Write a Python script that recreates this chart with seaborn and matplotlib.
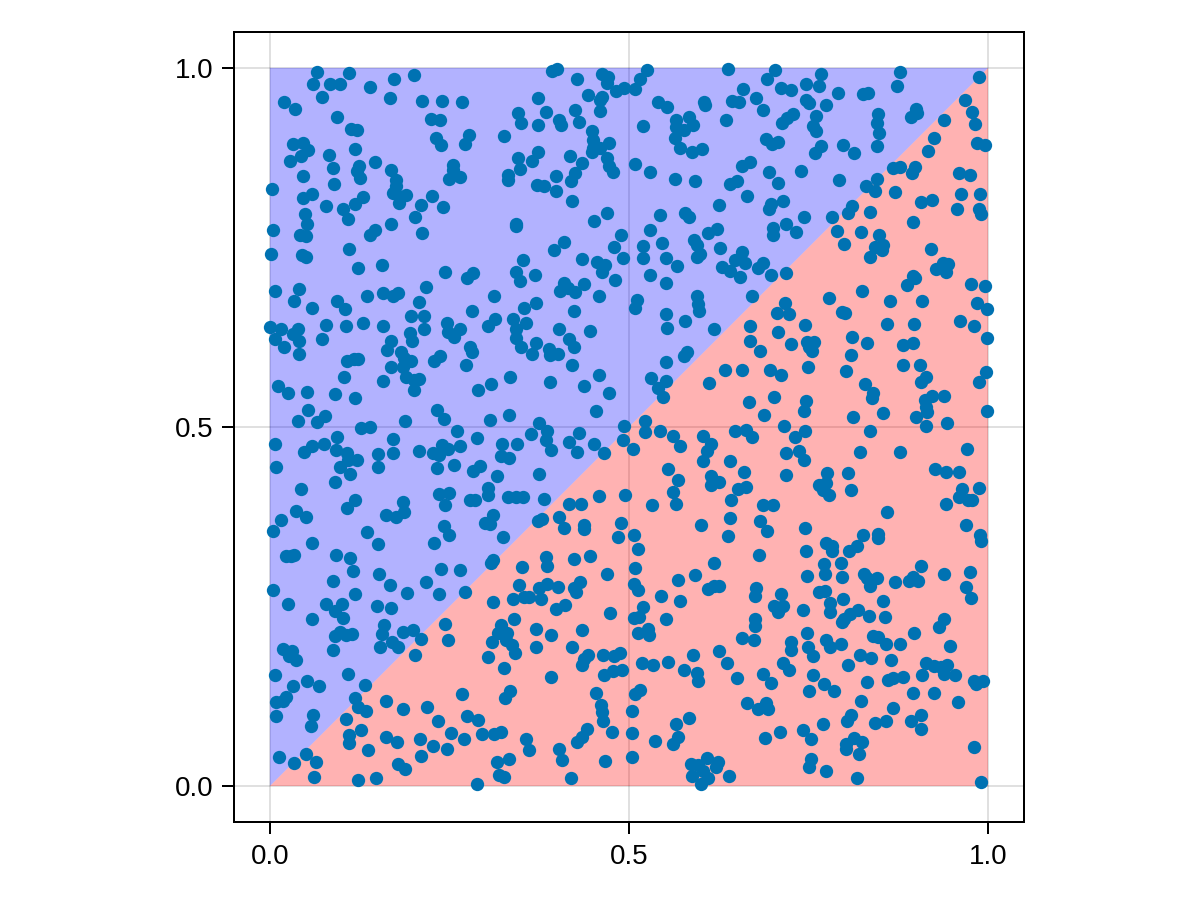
import matplotlib
matplotlib.use("Agg")
import matplotlib.pyplot as plt
import seaborn as sns
import pandas as pd

# Points, in data units, by region of the square
points_upper_left = [
(.065,.995),(.110,.993),(.200,.990),(.173,.984),(.060,.977),(.084,.978),(.097,.978),(.139,.974),(.072,.960),(.167,.958),
(.019,.952),(.035,.943),(.212,.954),(.240,.954),(.267,.953),(.094,.932),(.225,.929),(.237,.927),(.113,.915),(.121,.914),
(.231,.902),(.238,.892),(.277,.906),(.271,.894),(.032,.894),(.046,.895),(.053,.886),(.043,.877),(.028,.871),(.082,.879),
(.118,.887),(.088,.861),(.124,.864),(.121,.857),(.126,.847),(.146,.869),(.046,.850),(.168,.858),(.255,.865),(.255,.858),
(.265,.848),(.250,.845),(.089,.839),(.175,.844),(.175,.835),(.003,.832),(.059,.825),(.046,.819),(.172,.826),(.181,.820),
(.189,.823),(.180,.812),(.130,.820),(.118,.811),(.078,.808),(.102,.803),(.109,.790),(.226,.821),(.211,.809),(.241,.807),
(.049,.796),(.052,.782),(.202,.792),(.005,.775),(.168,.782),(.146,.775),(.139,.768),(.212,.770),(.042,.767),(.050,.766),
(.002,.741),(.044,.740),(.050,.737),(.110,.748),(.123,.722),(.156,.725),(.244,.716),(.275,.708),(.283,.715),(.007,.690),
(.040,.692),(.034,.676),(.058,.666),(.093,.676),(.105,.664),(.135,.682),(.158,.686),(.172,.683),(.178,.687),(.217,.695),
(.208,.674),(.197,.655),(.214,.655),(.106,.641),(.078,.642),(.129,.645),(.157,.641),(.281,.661),(.000,.639),(.016,.636),
(.039,.637),(.032,.630),(.007,.622),(.041,.620),(.072,.623),(.020,.611),(.040,.602),(.214,.636),(.195,.631),(.198,.620),
(.168,.620),(.163,.607),(.183,.604),(.246,.645),(.265,.637),(.248,.632),(.256,.626),(.278,.612),(.281,.604),(.107,.592),
(.117,.595),(.122,.595),(.187,.596),(.196,.592),(.186,.584),(.168,.583),(.237,.599),(.228,.592),(.273,.587),(.103,.570),
(.157,.564),(.189,.569),(.200,.565),(.207,.567),(.201,.551),(.011,.557),(.025,.548),(.052,.549),(.091,.546),(.118,.540),
(.053,.524),(.233,.524),(.242,.511),(.077,.516),(.066,.507),(.039,.508),(.188,.509),(.127,.498),(.139,.500),
(.393,.996),(.400,.998),(.428,.984),(.462,.991),(.471,.987),(.470,.979),(.493,.972),(.482,.968),(.443,.962),(.462,.959),
(.459,.956),(.373,.958),(.460,.940),(.346,.937),(.349,.923),(.384,.939),(.425,.941),(.373,.920),(.403,.927),(.406,.920),
(.431,.925),(.326,.905),(.448,.912),(.450,.899),(.450,.889),(.448,.883),(.459,.889),(.472,.895),(.373,.883),(.346,.875),
(.365,.870),(.348,.859),(.418,.877),(.435,.868),(.470,.874),(.472,.863),(.478,.855),(.398,.849),(.332,.851),(.332,.844),
(.425,.853),(.419,.843),(.372,.837),(.382,.835),(.399,.829),(.421,.814),(.470,.798),(.451,.787),(.342,.782),(.343,.780),
(.489,.768),(.409,.758),(.396,.746),(.479,.751),(.435,.734),(.491,.735),(.455,.730),(.467,.726),(.463,.716),(.352,.732),
(.342,.716),(.369,.711),(.348,.703),(.481,.704),(.409,.701),(.404,.689),(.415,.693),(.425,.688),(.438,.699),(.458,.683),
(.312,.683),(.370,.673),(.354,.666),(.424,.661),(.313,.651),(.303,.641),(.339,.650),(.356,.645),(.343,.637),(.402,.637),
(.446,.633),(.343,.624),(.371,.617),(.416,.622),(.424,.611),(.350,.612),(.365,.601),(.389,.608),(.390,.600),(.401,.602),
(.420,.587),(.458,.573),(.335,.570),(.390,.562),(.438,.557),(.308,.560),(.290,.551),(.472,.547),(.454,.522),(.307,.510),
(.333,.517),(.375,.506),(.493,.502),
]
points_upper_right = [
(.525,.997),(.516,.985),(.508,.970),(.638,.998),(.703,.997),(.692,.984),(.659,.970),(.712,.972),(.726,.969),(.747,.978),
(.764,.975),(.767,.992),(.791,.965),(.826,.963),(.833,.965),(.877,.994),(.873,.975),(.987,.988),(.968,.956),(.540,.952),
(.553,.945),(.605,.952),(.606,.949),(.644,.954),(.653,.953),(.677,.958),(.686,.941),(.746,.956),(.751,.951),(.774,.948),
(.977,.939),(.899,.943),(.901,.937),(.892,.931),(.847,.936),(.845,.923),(.848,.910),(.761,.933),(.728,.936),(.720,.930),
(.713,.923),(.583,.932),(.566,.927),(.589,.921),(.566,.918),(.576,.914),(.519,.919),(.635,.927),(.756,.919),(.761,.912),
(.982,.922),(.938,.927),(.924,.903),(.564,.903),(.691,.901),(.699,.894),(.707,.897),(.571,.888),(.588,.883),(.602,.887),
(.798,.893),(.813,.881),(.845,.891),(.767,.891),(.759,.881),(.917,.885),(.984,.895),(.996,.893),(.509,.866),(.529,.855),
(.564,.846),(.592,.843),(.669,.869),(.658,.864),(.695,.855),(.739,.857),(.708,.840),(.792,.844),(.868,.861),(.878,.862),
(.898,.862),(.894,.854),(.960,.854),(.975,.851),(.846,.845),(.830,.836),(.842,.828),(.870,.827),(.640,.839),(.650,.843),
(.665,.822),(.962,.824),(.989,.824),(.906,.813),(.922,.816),(.715,.815),(.698,.811),(.695,.803),(.625,.809),(.811,.808),
(.805,.798),(.836,.799),(.957,.804),(.987,.804),(.990,.797),(.543,.795),(.578,.798),(.584,.793),(.744,.793),(.782,.792),
(.895,.786),(.718,.783),(.701,.777),(.701,.767),(.733,.772),(.529,.774),(.623,.776),(.610,.770),(.790,.773),(.823,.771),
(.848,.767),(.590,.760),(.595,.753),(.800,.755),(.546,.756),(.520,.752),(.519,.736),(.627,.749),(.551,.735),(.567,.724),
(.657,.744),(.647,.733),(.662,.729),(.599,.741),(.595,.737),(.854,.753),(.842,.750),(.852,.746),(.835,.737),(.920,.748),
(.629,.723),(.640,.717),(.655,.709),(.679,.722),(.687,.729),(.698,.711),(.719,.715),(.529,.711),(.552,.701),(.937,.729),
(.944,.727),(.928,.720),(.942,.716),(.976,.699),(.996,.697),(.895,.710),(.898,.708),(.887,.698),(.825,.689),(.779,.679),
(.595,.683),(.671,.683),(.511,.677),(.508,.666),(.596,.671),(.597,.661),(.717,.673),(.706,.659),(.723,.657),(.796,.660),
(.801,.659),(.863,.675),(.908,.675),(.984,.673),(.999,.665),(.552,.658),(.578,.648),(.745,.642),(.859,.644),(.897,.643),
(.961,.648),(.980,.640),(.553,.638),(.619,.636),(.668,.640),(.708,.632),(.810,.626),(.998,.624),(.668,.620),(.726,.615),
(.748,.619),(.758,.619),(.751,.612),(.755,.606),(.831,.617),(.881,.614),(.896,.617),(.683,.606),(.809,.600),(.581,.605),
(.577,.599),(.551,.590),(.749,.584),(.881,.587),(.905,.586),(.633,.579),(.658,.579),(.697,.579),(.712,.573),(.802,.578),
(.997,.577),(.531,.568),(.552,.564),(.612,.561),(.540,.554),(.547,.542),(.914,.570),(.906,.563),(.987,.563),(.829,.560),
(.840,.548),(.839,.541),(.922,.543),(.938,.543),(.702,.542),(.912,.537),(.746,.536),(.667,.535),(.743,.522),(.913,.528),
(.915,.521),(.688,.517),(.854,.519),(.812,.514),(.899,.514),(.999,.522),(.522,.508),(.943,.506),(.716,.501),(.914,.502),
]
points_lower_left = [
(.261,.494),(.093,.486),(.007,.477),(.059,.474),(.076,.477),(.047,.465),(.172,.483),(.172,.464),(.288,.484),(.239,.475),
(.248,.470),(.264,.474),(.208,.467),(.227,.464),(.235,.461),(.323,.477),(.344,.477),(.364,.490),(.386,.494),(.385,.482),
(.392,.468),(.430,.491),(.416,.479),(.428,.465),(.451,.477),(.465,.464),(.492,.482),(.092,.468),(.108,.464),(.109,.454),
(.121,.454),(.151,.463),(.322,.460),(.333,.457),(.098,.445),(.112,.435),(.008,.445),(.151,.444),(.232,.443),(.257,.447),
(.292,.446),(.283,.439),(.316,.432),(.374,.434),(.091,.424),(.043,.414),(.303,.415),(.303,.406),(.235,.407),(.249,.408),
(.244,.392),(.332,.402),(.342,.403),(.352,.402),(.278,.398),(.285,.399),(.381,.400),(.458,.404),(.495,.406),(.118,.399),
(.108,.387),(.186,.395),(.187,.381),(.161,.378),(.176,.374),(.417,.393),(.433,.393),(.036,.383),(.050,.375),(.016,.370),
(.005,.355),(.311,.377),(.299,.367),(.307,.365),(.373,.369),(.379,.372),(.402,.375),(.409,.360),(.437,.364),(.437,.358),
(.489,.367),(.484,.347),(.242,.362),(.250,.349),(.135,.354),(.228,.339),(.150,.337),(.325,.347),(.058,.339),(.023,.320),
(.029,.320),(.034,.322),(.092,.322),(.111,.318),(.384,.319),(.386,.307),(.424,.316),(.446,.320),(.308,.310),(.310,.315),
(.351,.305),(.116,.300),(.238,.302),(.264,.301),(.469,.296),(.152,.296),(.088,.286),(.167,.280),(.218,.284),(.004,.273),
(.191,.269),(.119,.267),(.235,.268),(.271,.270),(.347,.280),(.374,.276),(.386,.281),(.401,.277),(.432,.284),(.423,.276),
(.426,.270),(.377,.260),(.339,.261),(.354,.263),(.361,.263),(.311,.256),(.025,.253),(.078,.254),(.101,.254),(.149,.251),
(.168,.248),(.090,.244),(.399,.246),(.411,.252),(.473,.241),(.059,.232),(.102,.234),(.340,.233),(.159,.224),(.156,.212),
(.097,.215),(.091,.209),(.106,.210),(.115,.212),(.186,.215),(.199,.217),(.244,.226),(.322,.224),(.318,.213),(.330,.213),
(.371,.219),(.435,.218),(.392,.210),(.211,.205),(.248,.203),(.170,.201),(.179,.193),(.153,.194),(.309,.201),(.329,.204),
(.337,.197),(.341,.186),(.371,.193),(.421,.193),(.018,.191),(.031,.188),(.026,.181),(.036,.175),(.088,.189),(.202,.182),
(.303,.180),(.443,.182),(.438,.177),(.434,.169),(.464,.182),(.479,.181),(.488,.185),(.326,.164),(.007,.154),(.109,.156),
(.465,.154),(.478,.160),(.490,.162),(.052,.147),(.392,.152),(.032,.140),(.069,.140),(.133,.141),(.334,.132),(.327,.122),
(.268,.128),(.454,.129),(.023,.124),(.008,.117),(.018,.118),(.118,.123),(.162,.119),(.123,.110),(.134,.104),(.186,.108),
(.219,.110),(.461,.113),(.463,.103),(.464,.091),(.008,.098),(.060,.099),(.057,.084),(.106,.093),(.234,.090),(.275,.097),
(.290,.092),(.127,.078),(.441,.079),(.476,.076),(.110,.071),(.110,.060),(.252,.074),(.295,.072),(.312,.073),(.322,.075),
(.161,.068),(.177,.061),(.209,.065),(.270,.065),(.357,.066),(.434,.069),(.428,.062),(.227,.056),(.247,.052),(.136,.050),
(.361,.050),(.402,.051),(.050,.044),(.211,.042),(.013,.040),(.033,.032),(.064,.033),(.178,.031),(.188,.024),(.316,.034),
(.333,.038),(.407,.036),(.467,.035),(.061,.013),(.123,.009),(.148,.011),(.319,.016),(.326,.013),(.419,.011),(.289,.003),
]
points_lower_right = [
(.522,.493),(.543,.494),(.561,.488),(.571,.474),(.506,.470),(.603,.487),(.614,.476),(.609,.467),(.603,.452),(.647,.495),
(.663,.496),(.671,.486),(.731,.486),(.745,.495),(.835,.495),(.718,.464),(.737,.467),(.743,.454),(.821,.465),(.877,.465),
(.971,.469),(.640,.453),(.554,.441),(.660,.438),(.568,.426),(.926,.441),(.942,.438),(.960,.438),(.718,.433),(.776,.436),
(.805,.436),(.614,.432),(.625,.423),(.614,.419),(.775,.422),(.764,.419),(.770,.412),(.778,.406),(.809,.412),(.964,.414),
(.987,.415),(.561,.409),(.565,.393),(.532,.391),(.652,.414),(.663,.416),(.642,.399),(.960,.402),(.972,.399),(.978,.399),
(.941,.393),(.686,.392),(.701,.391),(.640,.373),(.859,.381),(.682,.369),(.692,.355),(.600,.363),(.745,.359),(.638,.348),
(.969,.363),(.989,.350),(.990,.341),(.507,.349),(.847,.351),(.847,.345),(.826,.350),(.775,.339),(.782,.334),(.783,.327),
(.818,.335),(.806,.328),(.513,.330),(.747,.327),(.681,.322),(.619,.310),(.772,.309),(.795,.311),(.906,.306),(.508,.304),
(.592,.294),(.748,.293),(.773,.295),(.796,.291),(.827,.296),(.831,.290),(.846,.290),(.835,.278),(.870,.284),(.890,.285),
(.896,.291),(.903,.285),(.939,.296),(.975,.298),(.568,.287),(.507,.282),(.513,.273),(.610,.274),(.618,.278),(.625,.279),
(.677,.276),(.675,.265),(.711,.268),(.764,.270),(.773,.271),(.798,.260),(.853,.258),(.969,.277),(.976,.262),(.545,.264),
(.571,.258),(.780,.255),(.702,.251),(.714,.251),(.708,.243),(.742,.245),(.780,.243),(.519,.250),(.514,.236),(.507,.234),
(.551,.232),(.676,.232),(.676,.223),(.819,.245),(.808,.240),(.834,.237),(.856,.236),(.800,.232),(.796,.228),(.938,.232),
(.931,.221),(.526,.219),(.512,.213),(.528,.211),(.658,.206),(.674,.204),(.748,.213),(.897,.213),(.840,.209),(.847,.207),
(.774,.204),(.780,.194),(.795,.198),(.858,.198),(.878,.198),(.726,.200),(.725,.189),(.749,.193),(.756,.181),(.947,.195),
(.626,.188),(.589,.183),(.822,.183),(.837,.179),(.865,.175),(.518,.171),(.534,.168),(.555,.173),(.576,.161),(.637,.171),
(.714,.172),(.723,.161),(.805,.168),(.913,.172),(.925,.167),(.934,.166),(.943,.168),(.939,.156),(.954,.155),(.908,.155),
(.595,.157),(.596,.146),(.650,.151),(.686,.156),(.698,.143),(.756,.155),(.771,.142),(.831,.145),(.860,.148),(.867,.150),
(.881,.152),(.981,.147),(.993,.147),(.983,.142),(.516,.134),(.508,.128),(.751,.132),(.786,.133),(.895,.129),(.925,.129),
(.823,.118),(.958,.117),(.665,.116),(.691,.116),(.680,.108),(.694,.108),(.867,.109),(.504,.105),(.584,.095),(.809,.099),
(.804,.091),(.566,.086),(.770,.086),(.843,.088),(.858,.090),(.893,.091),(.907,.099),(.907,.079),(.504,.074),(.710,.075),
(.742,.078),(.753,.066),(.568,.069),(.561,.058),(.536,.063),(.689,.067),(.813,.067),(.825,.061),(.802,.058),(.802,.052),
(.980,.055),(.820,.045),(.504,.040),(.608,.039),(.587,.031),(.596,.029),(.624,.034),(.621,.026),(.753,.038),(.751,.026),
(.774,.021),(.603,.021),(.588,.014),(.610,.011),(.639,.014),(.817,.011),(.600,.003),(.990,.006),
]

upper_triangle_x = [0, 1, 0]
upper_triangle_y = [0, 1, 1]
lower_triangle_x = [0, 1, 1]
lower_triangle_y = [0, 0, 1]
tick_values = [0.0, 0.5, 1.0]
tick_labels = ["0.0", "0.5", "1.0"]

sns.set_style("white")
plt.rcParams["font.family"] = ["Liberation Sans", "DejaVu Sans"]

all_points = points_upper_left + points_upper_right + points_lower_left + points_lower_right
df = pd.DataFrame(all_points, columns=["x", "y"])

fig = plt.figure(figsize=(12, 9), dpi=100)
ax = fig.add_axes([234 / 1200, 78 / 900, 790 / 1200, 790 / 900])

ax.fill(upper_triangle_x, upper_triangle_y, color=(0, 0, 1), alpha=0.3, linewidth=0, zorder=2)
ax.fill(lower_triangle_x, lower_triangle_y, color=(1, 0, 0), alpha=0.3, linewidth=0, zorder=2)
sns.scatterplot(data=df, x="x", y="y", ax=ax, color="#0072B2", s=92, linewidth=0, zorder=3, legend=False)

ax.set_xlim(-0.05, 1.05)
ax.set_ylim(-0.05, 1.05)
ax.set_xticks(tick_values, tick_labels)
ax.set_yticks(tick_values, tick_labels)
ax.set_xlabel("")
ax.set_ylabel("")
ax.grid(True, color="black", alpha=0.12, linewidth=1.44, zorder=1)
ax.set_axisbelow(True)
ax.tick_params(axis="both", length=8.6, width=1.44, color="black", labelsize=20, labelcolor="black",
               direction="out", bottom=True, left=True)
ax.tick_params(axis="x", pad=7.5)
ax.tick_params(axis="y", pad=6)
for spine in ax.spines.values():
    spine.set_visible(True)
    spine.set_color("black")
    spine.set_linewidth(1.44)

fig.savefig("out.png", dpi=100)
